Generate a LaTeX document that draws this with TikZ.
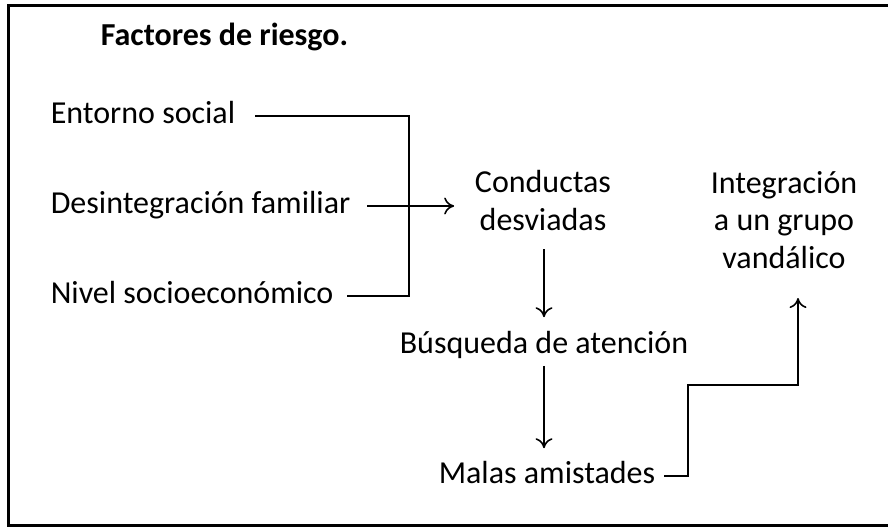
\documentclass[tikz,border=0pt]{standalone}
\usepackage{fontspec}
\setmainfont{Carlito}
\usetikzlibrary{arrows.meta}
\usetikzlibrary{calc}

\tikzset{
  txt/.style={inner sep=0pt, font=\fontsize{32}{37.5}\selectfont, text height=20pt, text depth=6pt},
  blk/.style={inner sep=0pt, font=\fontsize{32}{37.5}\selectfont, align=center},
}

\begin{document}
\begin{tikzpicture}[x=1pt, y=-1pt, line width=1.6pt, >={To[length=10pt,width=17pt]}]
  \useasboundingbox (0,0) rectangle (888,527);
  \draw[line width=3pt] (892,6) -- (8,6) -- (8,525.5) -- (892,525.5);

  \node[txt, font=\fontsize{32}{37.5}\selectfont\bfseries, anchor=base west] (tit) at (100,46) {Factores de riesgo.};

  \node[txt, anchor=base west] (ent) at (50,123) {Entorno social};
  \node[txt, anchor=base west] (des) at (50,213) {Desintegración familiar};
  \node[txt, anchor=base west] (niv) at (50,303) {Nivel socioeconómico};

  % base = last line
  \node[blk, anchor=base] (con) at (543,230) {Conductas\\desviadas};
  \node[txt, anchor=base] (bus) at (544,353) {Búsqueda de atención};
  \node[txt, anchor=base] (mal) at (547,483) {Malas amistades};
  \node[blk, anchor=base] (int) at (784,268) {Integración\\a un grupo\\vandálico};

  \coordinate (join) at (409,204);
  \coordinate (stair) at (688,385);

  \draw ([xshift=19pt]ent.east) -| (join) |- ([xshift=13pt]niv.east);
  \draw[->] ([xshift=16pt]des.east) -- ([xshift=-20pt]des.east -| con.west);
  \draw[->] ([yshift=-18pt]con.south -| bus.north) -- ([yshift=15pt]bus.north);
  \draw[->] ([yshift=-6pt]bus.south) -- ([yshift=14pt]mal.north -| bus.south);
  \draw[->] ([xshift=8pt]mal.east) -| (stair) -| ([xshift=14pt,yshift=-29pt]int.south);
\end{tikzpicture}
\end{document}
